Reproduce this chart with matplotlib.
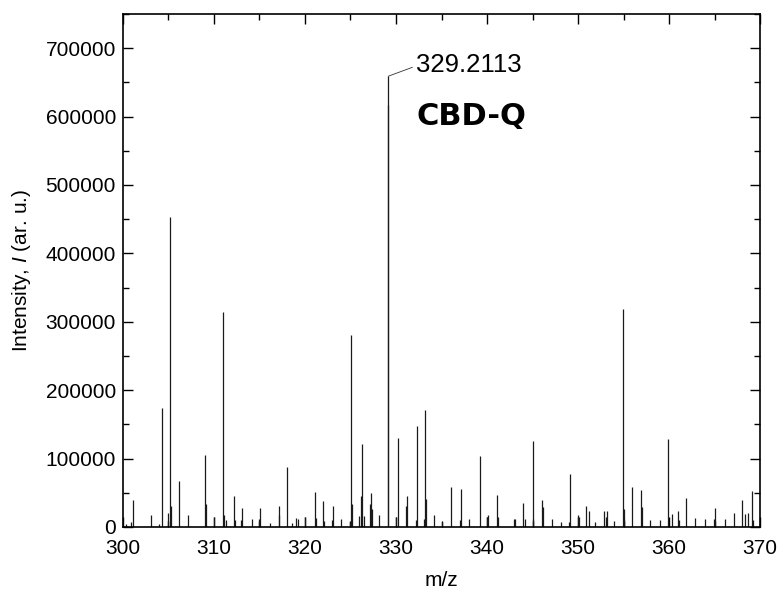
import matplotlib.pyplot as plt
from matplotlib.ticker import MultipleLocator

plt.rcParams['font.family'] = ['Liberation Sans', 'DejaVu Sans']
plt.rcParams['mathtext.fontset'] = 'custom'
plt.rcParams['mathtext.rm'] = 'Liberation Sans'
plt.rcParams['mathtext.it'] = 'Liberation Sans:italic'

# peak list (m/z, intensity)
mz = [300.3, 300.9, 301.1, 303.1, 304.0, 304.3, 304.9, 305.2, 305.3, 306.2,
      307.2, 309.0, 309.1, 310.0, 311.0, 311.1, 311.3, 312.2, 312.3, 313.0,
      313.1, 314.2, 315.0, 315.1, 316.2, 317.1, 317.2, 318.0, 318.6, 319.0,
      319.2, 320.0, 321.1, 321.2, 322.0, 322.1, 323.1, 323.0, 324.0, 325.05,
      325.15, 324.95, 325.96, 326.1, 326.3, 326.45, 327.1, 327.3, 327.4, 328.1,
      329.1, 329.15, 330.0, 330.2, 331.1, 331.2, 332.2, 332.3, 333.15, 333.25,
      333.1, 334.2, 335.0, 336.0, 337.0, 337.1, 338.0, 339.2, 340.0, 340.1,
      341.1, 341.2, 343.0, 343.1, 344.0, 344.2, 345.0, 345.05, 346.0, 346.1,
      347.1, 348.1, 349.0, 349.1, 350.0, 350.1, 350.9, 351.2, 351.9, 352.9,
      353.2, 353.1, 353.9, 354.9, 355.0, 355.1, 355.9, 356.9, 357.0, 357.9,
      359.0, 359.9, 360.3, 361.0, 361.1, 361.9, 362.9, 364.0, 364.95, 365.05,
      366.1, 367.1, 368.05, 368.3, 368.7, 369.1, 369.2]
intensity = [5000, 8000, 40000, 18000, 5000, 174000, 20000, 453000, 31000, 67000,
             17000, 105000, 34000, 14000, 314000, 18000, 10000, 46000, 10000, 10000,
             28000, 12000, 12000, 28000, 6000, 31000, 18000, 87000, 6000, 13000,
             11000, 14000, 51000, 13000, 38000, 9000, 30000, 10000, 12000, 280000,
             33000, 7000, 16000, 45000, 121000, 16000, 33000, 50000, 26000, 17000,
             617000, 659000, 14000, 130000, 31000, 46000, 10000, 147000, 171000, 41000,
             11000, 17000, 7000, 58000, 10000, 56000, 11000, 104000, 15000, 18000,
             47000, 14000, 12000, 12000, 35000, 12000, 11000, 125000, 39000, 29000,
             12000, 7000, 8000, 78000, 18000, 14000, 30000, 23000, 7000, 23000,
             23000, 15000, 9000, 318000, 27000, 12000, 59000, 54000, 29000, 10000,
             10000, 129000, 19000, 23000, 10000, 43000, 13000, 11000, 11000, 28000,
             11000, 20000, 39000, 19000, 20000, 53000, 10000]

label_peak = (329.15, 659000)
label_text = '329.2113'
sample = 'CBD-Q'

fig = plt.figure(figsize=(7.78, 5.95), dpi=100)
ax = fig.add_axes([0.158, 0.1143, 0.819, 0.8622])

ax.vlines(mz, 0, intensity, colors='#1a1a1a', linewidth=0.9)

ax.set_xlim(300, 370)
ax.set_ylim(0, 750000)
ax.xaxis.set_major_locator(MultipleLocator(10))
ax.xaxis.set_minor_locator(MultipleLocator(5))
ax.yaxis.set_major_locator(MultipleLocator(100000))
ax.yaxis.set_minor_locator(MultipleLocator(50000))
ax.set_yticks(range(0, 700001, 100000))
ax.tick_params(which='both', direction='in', top=True, right=True,
               labelsize=15, width=1.0)
ax.tick_params(axis='y', pad=5)
ax.tick_params(axis='x', pad=9)
ax.tick_params(which='major', length=7)
ax.tick_params(which='minor', length=4)
for s in ax.spines.values():
    s.set_linewidth(1.2)

ax.set_xlabel('m/z', fontsize=15, labelpad=9)
ax.set_ylabel('Intensity, $I$ (ar. u.)', fontsize=15, labelpad=9)

ax.annotate(label_text, xy=label_peak, xytext=(332.25, 676000),
            ha='left', va='center', fontsize=18.5,
            arrowprops=dict(arrowstyle='-', lw=0.6, color='#333333',
                            shrinkA=1, shrinkB=0, relpos=(0, 0.45)))
ax.text(332.25, 600000, sample, ha='left', va='center', fontsize=22,
        fontweight='bold', family='DejaVu Sans')

fig.savefig('out.png', dpi=100)
